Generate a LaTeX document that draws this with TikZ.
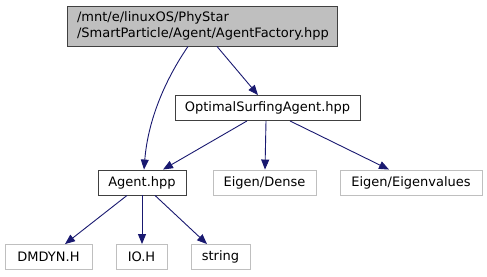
\documentclass[tikz,border=0pt]{standalone}
\usepackage{fontspec}
\setmainfont{DejaVu Sans}
\usetikzlibrary{arrows.meta}
\definecolor{edgeblue}{RGB}{25,25,112}
\definecolor{boxgray}{RGB}{191,191,191}
\definecolor{boxedge}{RGB}{64,64,64}
\begin{document}
\begin{tikzpicture}[x=1pt,y=-1pt,
  file/.style={draw=boxedge,line width=0.9pt,inner sep=0pt,font=\fontsize{13}{16}\selectfont,text=black},
  extfile/.style={draw=boxgray,line width=0.9pt,inner sep=0pt,font=\fontsize{13}{16}\selectfont,text=black},
  dep/.style={draw=edgeblue,line width=0.9pt,-{Triangle[length=10pt,width=8pt,fill=edgeblue]}}]
\useasboundingbox (0,0) rectangle (487,276);
% header being documented
\node[file,fill=boxgray,minimum width=270pt,minimum height=40pt,align=left,text width=250pt]
  (factory) at (202,26) {/mnt/e/linuxOS/PhyStar\\/SmartParticle/Agent/AgentFactory.hpp};
% included headers
\node[file,minimum width=185pt,minimum height=25pt] (osa) at (267.5,108) {OptimalSurfingAgent.hpp};
\node[file,minimum width=88pt,minimum height=25pt] (agent) at (142,182.5) {Agent.hpp};
\node[extfile,minimum width=103pt,minimum height=25pt] (dense) at (264.5,182.5) {Eigen/Dense};
\node[extfile,minimum width=142pt,minimum height=25pt] (eigval) at (411,182.5) {Eigen/Eigenvalues};
\node[extfile,minimum width=87pt,minimum height=25pt] (dmdyn) at (48.5,257) {DMDYN.H};
\node[extfile,minimum width=51pt,minimum height=25pt] (ioh) at (141.5,257) {IO.H};
\node[extfile,minimum width=59pt,minimum height=25pt] (string) at (220.5,257) {string};
% include edges
\draw[dep] (factory.south -| 188,0) .. controls (165,80) and (148,120) .. (agent.north -| 144,0);
\draw[dep] (factory.south -| 217,0) -- (osa.north -| 258,0);
\draw[dep] (osa.south -| 247,0) -- (agent.north -| 163,0);
\draw[dep] (osa.south -| 266,0) -- (dense.north -| 265,0);
\draw[dep] (osa.south -| 290,0) -- (eigval.north -| 389,0);
\draw[dep] (agent.south -| 127,0) -- (dmdyn.north -| 65,0);
\draw[dep] (agent.south -| 142,0) -- (ioh.north -| 142,0);
\draw[dep] (agent.south -| 155,0) -- (string.north -| 207,0);
\end{tikzpicture}
\end{document}
